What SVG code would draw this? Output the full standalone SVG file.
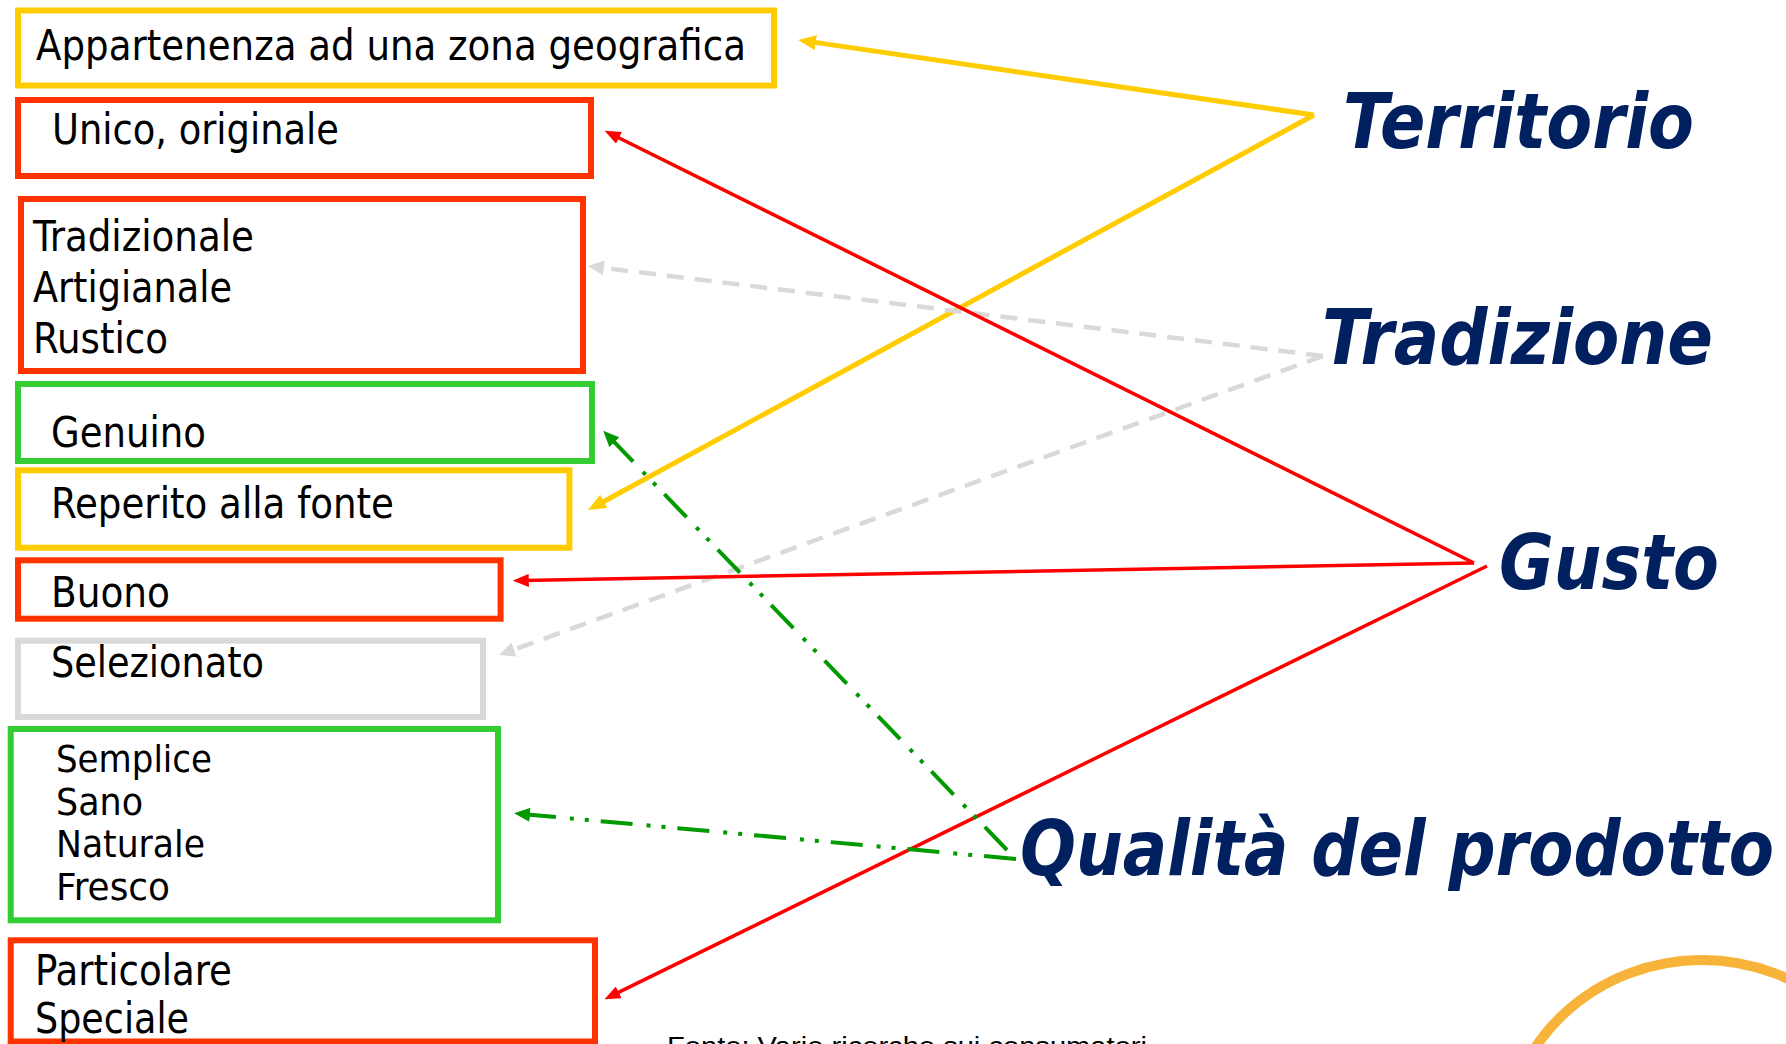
<svg xmlns="http://www.w3.org/2000/svg" width="1786" height="1044" viewBox="0 0 1786 1044">
<style>
.box{fill:#FFFFFF;stroke-width:6}
.yel{stroke:#FFCC00}
.red{stroke:#FF3300}
.grn{stroke:#33CC33}
.gry{stroke:#D9D9D9}
.t{font-family:"DejaVu Sans Condensed","DejaVu Sans",sans-serif;font-size:42px;fill:#000000}
.ts{font-size:38px}
.k{font-family:"DejaVu Sans","Liberation Sans",sans-serif;font-weight:bold;font-style:italic;font-size:76px;fill:#002060}
.c{fill:none}
.cy{stroke:#FFCC00;stroke-width:5;marker-end:url(#ay)}
.cr{stroke:#FF0000;stroke-width:3.5;marker-end:url(#ar)}
.cg{stroke:#D9D9D9;stroke-width:4.5;stroke-dasharray:17 11;marker-end:url(#ag)}
.cn{stroke:#009900;stroke-width:4;stroke-dasharray:32 12 4 11 4 14;marker-end:url(#an)}
</style>
<defs>
<marker id="ay" viewBox="0 0 18 15" refX="8" refY="7.5" markerWidth="18" markerHeight="15" markerUnits="userSpaceOnUse" orient="auto"><path d="M0,0 L18,7.5 L0,15 z" fill="#FFCC00"/></marker>
<marker id="ar" viewBox="0 0 16 13" refX="6" refY="6.5" markerWidth="16" markerHeight="13" markerUnits="userSpaceOnUse" orient="auto"><path d="M0,0 L16,6.5 L0,13 z" fill="#FF0000"/></marker>
<marker id="ag" viewBox="0 0 16 15" refX="6" refY="7.5" markerWidth="16" markerHeight="15" markerUnits="userSpaceOnUse" orient="auto"><path d="M0,0 L16,7.5 L0,15 z" fill="#D9D9D9"/></marker>
<marker id="an" viewBox="0 0 16 14" refX="6" refY="7" markerWidth="16" markerHeight="14" markerUnits="userSpaceOnUse" orient="auto"><path d="M0,0 L16,7 L0,14 z" fill="#009900"/></marker>
</defs>
<rect width="1786" height="1044" fill="#FFFFFF"/>

<g id="node-appartenenza">
<rect class="box yel" x="18" y="10.5" width="756" height="75"/>
<text class="t" x="36" y="60" textLength="710" lengthAdjust="spacingAndGlyphs">Appartenenza ad una zona geografica</text>
</g>
<g id="node-unico">
<rect class="box red" x="18" y="100" width="573" height="76"/>
<text class="t" x="52" y="144" textLength="287" lengthAdjust="spacingAndGlyphs">Unico, originale</text>
</g>
<g id="node-tradizionale">
<rect class="box red" x="21" y="199" width="562" height="172"/>
<text class="t" x="33" y="251" textLength="221" lengthAdjust="spacingAndGlyphs">Tradizionale</text>
<text class="t" x="33" y="302" textLength="199" lengthAdjust="spacingAndGlyphs">Artigianale</text>
<text class="t" x="33" y="353" textLength="135" lengthAdjust="spacingAndGlyphs">Rustico</text>
</g>
<g id="node-genuino">
<rect class="box grn" x="18" y="384" width="574" height="77"/>
<text class="t" x="51" y="447" textLength="155" lengthAdjust="spacingAndGlyphs">Genuino</text>
</g>
<g id="node-reperito">
<rect class="box yel" x="18" y="470.3" width="551.4" height="77.4"/>
<text class="t" x="51" y="518" textLength="343" lengthAdjust="spacingAndGlyphs">Reperito alla fonte</text>
</g>
<g id="node-buono">
<rect class="box red" x="18" y="560.3" width="482.6" height="58.4"/>
<text class="t" x="51" y="607" textLength="119" lengthAdjust="spacingAndGlyphs">Buono</text>
</g>
<g id="node-selezionato">
<rect class="box gry" x="18" y="640.7" width="465" height="76.3"/>
<text class="t" x="51" y="676.5" textLength="213" lengthAdjust="spacingAndGlyphs">Selezionato</text>
</g>
<g id="node-semplice">
<rect class="box grn" x="10.7" y="729" width="487.3" height="191.3"/>
<text class="t ts" x="56" y="772" textLength="156" lengthAdjust="spacingAndGlyphs">Semplice</text>
<text class="t ts" x="56" y="814.5" textLength="87" lengthAdjust="spacingAndGlyphs">Sano</text>
<text class="t ts" x="56" y="857" textLength="149" lengthAdjust="spacingAndGlyphs">Naturale</text>
<text class="t ts" x="56" y="900" textLength="114" lengthAdjust="spacingAndGlyphs">Fresco</text>
</g>
<g id="node-particolare">
<rect class="box red" x="10.7" y="940.3" width="584.3" height="101.2"/>
<text class="t" x="35" y="985" textLength="197" lengthAdjust="spacingAndGlyphs">Particolare</text>
<text class="t" x="35" y="1033" textLength="154" lengthAdjust="spacingAndGlyphs">Speciale</text>
</g>

<g id="node-territorio"><text class="k" x="1343" y="148" textLength="351" lengthAdjust="spacingAndGlyphs">Territorio</text></g>
<g id="node-tradizione"><text class="k" x="1322" y="364" textLength="391" lengthAdjust="spacingAndGlyphs">Tradizione</text></g>
<g id="node-gusto"><text class="k" x="1499" y="589" textLength="220" lengthAdjust="spacingAndGlyphs">Gusto</text></g>
<g id="node-qualita"><text class="k" x="1020" y="875" textLength="754" lengthAdjust="spacingAndGlyphs">Qualità del prodotto</text></g>

<g id="connectors">
<line class="c cy" x1="1314" y1="115" x2="807.9" y2="41.4"/>
<line class="c cy" x1="1314" y1="115" x2="596.8" y2="505.2"/>
<line class="c cg" x1="1323" y1="356" x2="597.9" y2="267.2"/>
<line class="c cg" x1="1323" y1="356" x2="508.4" y2="651.6"/>
<line class="c cr" x1="1474" y1="563" x2="613.6" y2="135.2"/>
<line class="c cr" x1="1474" y1="563" x2="522.8" y2="580.5"/>
<line class="c cr" x1="1487" y1="566" x2="613.4" y2="994.9"/>
<line class="c cn" x1="1007" y1="850" x2="610.2" y2="437.9"/>
<line class="c cn" x1="1016" y1="859" x2="524" y2="814.2"/>
</g>

<text x="667" y="1055" font-family="Liberation Sans, Arial, sans-serif" font-size="26" fill="#000000" textLength="480" lengthAdjust="spacingAndGlyphs">Fonte: Varie ricerche sui consumatori</text>
<ellipse cx="1702" cy="1150" rx="198" ry="190" fill="none" stroke="#F7B33A" stroke-width="10"/>
</svg>
